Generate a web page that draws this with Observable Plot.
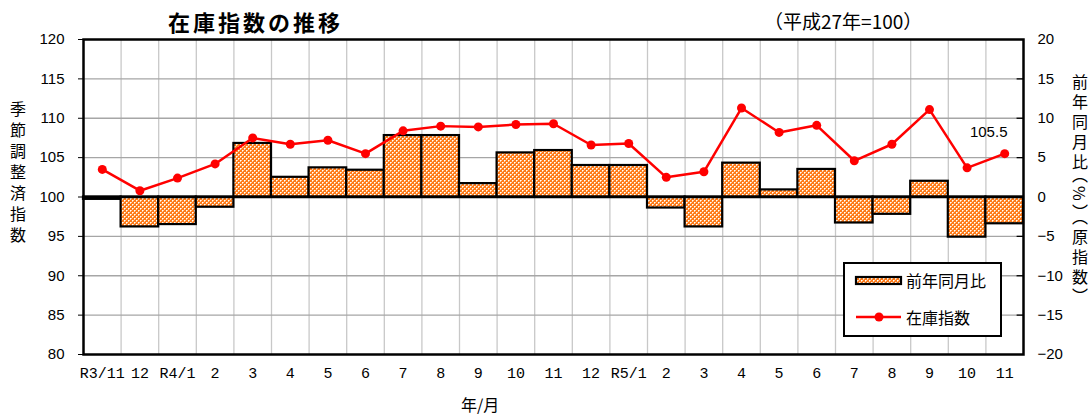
<!DOCTYPE html>
<html><head><meta charset="utf-8">
<script src="https://cdn.jsdelivr.net/npm/d3@7"></script>
<script src="https://cdn.jsdelivr.net/npm/@observablehq/plot@0.6"></script>
<style>
body{margin:0;background:#fff;}
#wrap{position:relative;width:1092px;height:416px;font-family:"Liberation Sans","Noto Sans CJK JP",sans-serif;color:#000;overflow:hidden;}
#wrap > svg{position:absolute;left:0;top:0;}
.abs{position:absolute;white-space:nowrap;line-height:1;}
.cjk{font-family:"Noto Sans CJK JP",sans-serif;}
.vert{writing-mode:vertical-rl;}
g[aria-label^="x-axis"] text{font-family:"Liberation Mono",monospace;}
</style></head><body><div id="wrap"></div>
<script>
// ---- data ----
const months = ["R3/11","12","R4/1","2","3","4","5","6","7","8","9","10","11","12","R5/1","2","3","4","5","6","7","8","9","10","11"];
const yoy = [-0.3,-3.8,-3.5,-1.3,6.8,2.5,3.7,3.4,7.8,7.8,1.7,5.6,5.9,4.0,4.0,-1.4,-3.8,4.3,0.9,3.5,-3.3,-2.2,2.0,-5.1,-3.4];
const index = [103.5,100.8,102.4,104.2,107.5,106.7,107.2,105.5,108.4,109.0,108.9,109.2,109.3,106.6,106.8,102.5,103.2,111.3,108.2,109.1,104.6,106.7,111.1,103.7,105.5];
const leftTicks = [80,85,90,95,100,105,110,115,120];
const rightTicks = [-20,-15,-10,-5,0,5,10,15,20];
const titleText = "在庫指数の推移";
const subtitleText = "（平成27年=100）";
const leftLabel = "季節調整済指数";
const rightLabel = "前年同月比（%）（原指数）";
const xLabel = "年/月";
const legendBar = "前年同月比";
const legendLine = "在庫指数";

const data = months.map((m, i) => ({i, m, yoy: yoy[i], idx: index[i]}));
const fmtR = d => d < 0 ? "\u2212" + (-d) : String(d);

const plot = Plot.plot({
  width: 1092, height: 416,
  marginLeft: 83, marginRight: 69, marginTop: 39, marginBottom: 62,
  style: {fontFamily: '"Liberation Sans", "Noto Sans CJK JP", sans-serif', fontSize: "15px", background: "transparent", color: "#000", overflow: "visible"},
  x: {type: "linear", domain: [0, months.length], ticks: months.map((m, i) => i + 0.5),
      tickFormat: d => months[Math.round(d - 0.5)], tickSize: 0, tickPadding: 13, label: null},
  y: {domain: [80, 120], ticks: leftTicks, tickSize: 5, tickPadding: 14, label: null},
  marks: [
    Plot.ruleX(d3.range(1, months.length), {stroke: "#c8c8c8", strokeWidth: 1.3}),
    Plot.ruleY(leftTicks.filter(v => v > 80 && v < 120), {stroke: "#a6a6a6", strokeWidth: 1.3}),
    Plot.rect(data, {x1: d => d.i, x2: d => d.i + 1, y1: () => 100, y2: d => 100 + d.yoy,
      fill: "url(#dots)", stroke: "black", strokeWidth: 2.2}),
    Plot.ruleY([100], {stroke: "black", strokeWidth: 2.5}),
    Plot.ruleY(rightTicks.filter(v => v > -20 && v < 20), {y: d => 100 + d, x1: months.length - 0.17, x2: months.length, stroke: "black", strokeWidth: 1.3}),
    Plot.text(rightTicks, {y: d => 100 + d, text: fmtR, frameAnchor: "right", dx: 14, textAnchor: "start", fontSize: 15}),
    Plot.line(data, {x: d => d.i + 0.5, y: "idx", stroke: "#ff0000", strokeWidth: 2.5}),
    Plot.dot(data, {x: d => d.i + 0.5, y: "idx", r: 4.5, fill: "#ff0000", stroke: "none"}),
    Plot.text(data.slice(-1), {x: d => d.i + 0.5, y: "idx", text: d => d.idx.toFixed(1), dx: -16, dy: -22, fontSize: 15}),
    Plot.frame({stroke: "black", strokeWidth: 2.5})
  ]
});

// pattern for bars
const defs = d3.select(plot).insert("defs", ":first-child");
const pat = defs.append("pattern").attr("id", "dots").attr("width", 4).attr("height", 4).attr("patternUnits", "userSpaceOnUse");
pat.append("rect").attr("width", 4).attr("height", 4).attr("fill", "#ff7a1a");
pat.append("rect").attr("x", 0).attr("y", 0).attr("width", 1).attr("height", 1).attr("fill", "#ffffff");
pat.append("rect").attr("x", 2).attr("y", 2).attr("width", 1).attr("height", 1).attr("fill", "#ffffff");
pat.append("rect").attr("x", 1).attr("y", 0).attr("width", 1).attr("height", 1).attr("fill", "#ffd0a0");
pat.append("rect").attr("x", 3).attr("y", 2).attr("width", 1).attr("height", 1).attr("fill", "#ffd0a0");
pat.append("rect").attr("x", 0).attr("y", 1).attr("width", 1).attr("height", 1).attr("fill", "#ffd0a0");
pat.append("rect").attr("x", 2).attr("y", 3).attr("width", 1).attr("height", 1).attr("fill", "#ffd0a0");

const wrap = document.getElementById("wrap");
wrap.appendChild(plot);

function addText(txt, cls, css) {
  const d = document.createElement("div");
  d.className = "abs " + cls;
  d.textContent = txt;
  Object.assign(d.style, css);
  wrap.appendChild(d);
  return d;
}
addText(titleText, "cjk", {left: "168px", top: "10px", fontSize: "22px", fontWeight: "bold", letterSpacing: "3px"});
addText(subtitleText, "cjk", {left: "764px", top: "11px", fontSize: "19px"});
addText(leftLabel, "cjk vert", {left: "10px", top: "101px", fontSize: "16px", letterSpacing: "5px"});
addText(rightLabel, "cjk vert", {left: "1072px", top: "74px", fontSize: "16px", letterSpacing: "4px", fontFeatureSettings: '"vpal"'});
addText(xLabel, "cjk", {left: "461px", top: "396px", fontSize: "16px"});

// legend
const leg = document.createElement("div");
leg.className = "abs";
Object.assign(leg.style, {left: "843px", top: "262px", width: "155px", height: "71px", border: "2.5px solid #000", background: "#fff"});
leg.innerHTML = `
<svg width="60" height="71" style="position:absolute;left:0;top:0">
  <rect x="11" y="13" width="45" height="7" fill="url(#dots)" stroke="#000" stroke-width="2.2"/>
  <line x1="11" x2="56" y1="53" y2="53" stroke="#ff0000" stroke-width="2.5"/>
  <circle cx="34" cy="53" r="4.5" fill="#ff0000"/>
</svg>`;
const t1 = document.createElement("div"); t1.className = "abs cjk"; t1.textContent = legendBar;
Object.assign(t1.style, {left: "61px", top: "8px", fontSize: "16px"});
const t2 = document.createElement("div"); t2.className = "abs cjk"; t2.textContent = legendLine;
Object.assign(t2.style, {left: "61px", top: "45px", fontSize: "16px"});
leg.appendChild(t1); leg.appendChild(t2);
wrap.appendChild(leg);
</script></body></html>
